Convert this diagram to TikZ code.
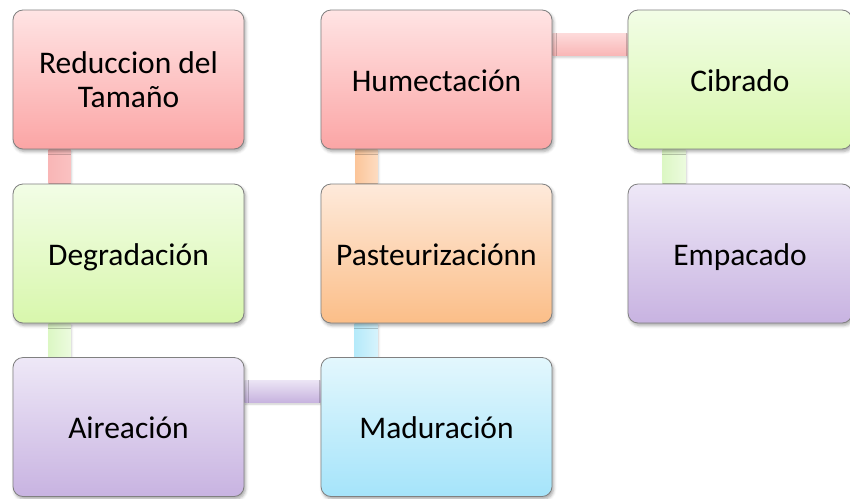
\documentclass[tikz,border=0pt]{standalone}
\usepackage{fontspec}
\setmainfont{Carlito}
\usetikzlibrary{shadows.blur}
\definecolor{pinkT}{HTML}{FFE4E4}
\definecolor{pinkB}{HTML}{FBA5A5}
\definecolor{greenT}{HTML}{F2FDE6}
\definecolor{greenB}{HTML}{D8F7AC}
\definecolor{purpT}{HTML}{EEE8F7}
\definecolor{purpB}{HTML}{C8B3E1}
\definecolor{oranT}{HTML}{FEEADB}
\definecolor{oranB}{HTML}{FBBE88}
\definecolor{cyanT}{HTML}{E3F7FD}
\definecolor{cyanB}{HTML}{A5E4FA}
\definecolor{cPink}{HTML}{F9B6B6}
\definecolor{cPinkL}{HTML}{FDDADA}
\definecolor{cGreen}{HTML}{DCF7C4}
\definecolor{cGreenL}{HTML}{ECFBDE}
\definecolor{cPurpL}{HTML}{ECE5F5}
\definecolor{cPurp}{HTML}{C7B3DF}
\definecolor{cCyan}{HTML}{B5EAFA}
\definecolor{cCyanL}{HTML}{D6F3FC}
\definecolor{cOran}{HTML}{FCC69A}
\definecolor{cOranL}{HTML}{FDDCC1}
\pgfdeclarelayer{bg}
\pgfsetlayers{bg,main}
\begin{document}
\begin{tikzpicture}[x=1pt,y=-1pt,
  box/.style={draw=black!50, line width=0.8pt, rounded corners=10pt,
    minimum width=231pt, minimum height=139pt, inner sep=0pt, align=center,
    font=\fontsize{31.5}{34.5}\selectfont,
    blur shadow={shadow xshift=1.5pt, shadow yshift=-2.5pt, shadow blur radius=3pt, shadow opacity=35}},
  oneline/.style={text height=25pt, text depth=2pt},
  pinkbox/.style={box, top color=pinkT, bottom color=pinkB},
  greenbox/.style={box, top color=greenT, bottom color=greenB},
  purpbox/.style={box, top color=purpT, bottom color=purpB},
  oranbox/.style={box, top color=oranT, bottom color=oranB},
  cyanbox/.style={box, top color=cyanT, bottom color=cyanB},
  conn/.style={blur shadow={shadow xshift=1pt, shadow yshift=-2pt, shadow blur radius=2pt, shadow opacity=20}}
]
\useasboundingbox (0,0) rectangle (850,498);
\clip (0,0) rectangle (850,498);
\node[pinkbox]  (A) at (128.5,79.5)  {Reduccion del\\Tamaño};
\node[greenbox, oneline] (B) at (128.5,253.5) {Degradación};
\node[purpbox, oneline]  (C) at (128.5,427)   {Aireación};
\node[cyanbox, oneline]  (D) at (436.5,427)   {Maduración};
\node[oranbox, oneline]  (E) at (436.5,253.5) {Pasteurizaciónn};
\node[pinkbox, oneline]  (F) at (436.5,79.5)  {Humectación};
\node[greenbox, oneline, minimum width=224pt] (G) at (740,79.5)  {Cibrado};
\node[purpbox, oneline, minimum width=224pt]  (H) at (740,253.5) {Empacado};
\begin{pgfonlayer}{bg}
\shade[conn, left color=cPink, right color=cPink!85!white] ([xshift=36pt]A.south west) rectangle ([xshift=58pt]B.north west);
\shade[conn, left color=cGreen, right color=cGreenL] ([xshift=36pt]B.south west) rectangle ([xshift=58pt]C.north west);
\shade[conn, top color=cPurpL, bottom color=cPurp] ([yshift=-23pt]C.north east) rectangle ([yshift=-45pt]D.north west);
\shade[conn, left color=cCyan, right color=cCyanL] ([xshift=34pt]E.south west) rectangle ([xshift=57pt]D.north west);
\shade[conn, left color=cOran, right color=cOranL] ([xshift=35pt]F.south west) rectangle ([xshift=57pt]E.north west);
\shade[conn, top color=cPinkL, bottom color=cPink] ([yshift=-24pt]F.north east) rectangle ([yshift=-46pt]G.north west);
\shade[conn, left color=cGreen, right color=cGreenL] ([xshift=35pt]G.south west) rectangle ([xshift=58pt]H.north west);
\end{pgfonlayer}
\end{tikzpicture}
\end{document}
